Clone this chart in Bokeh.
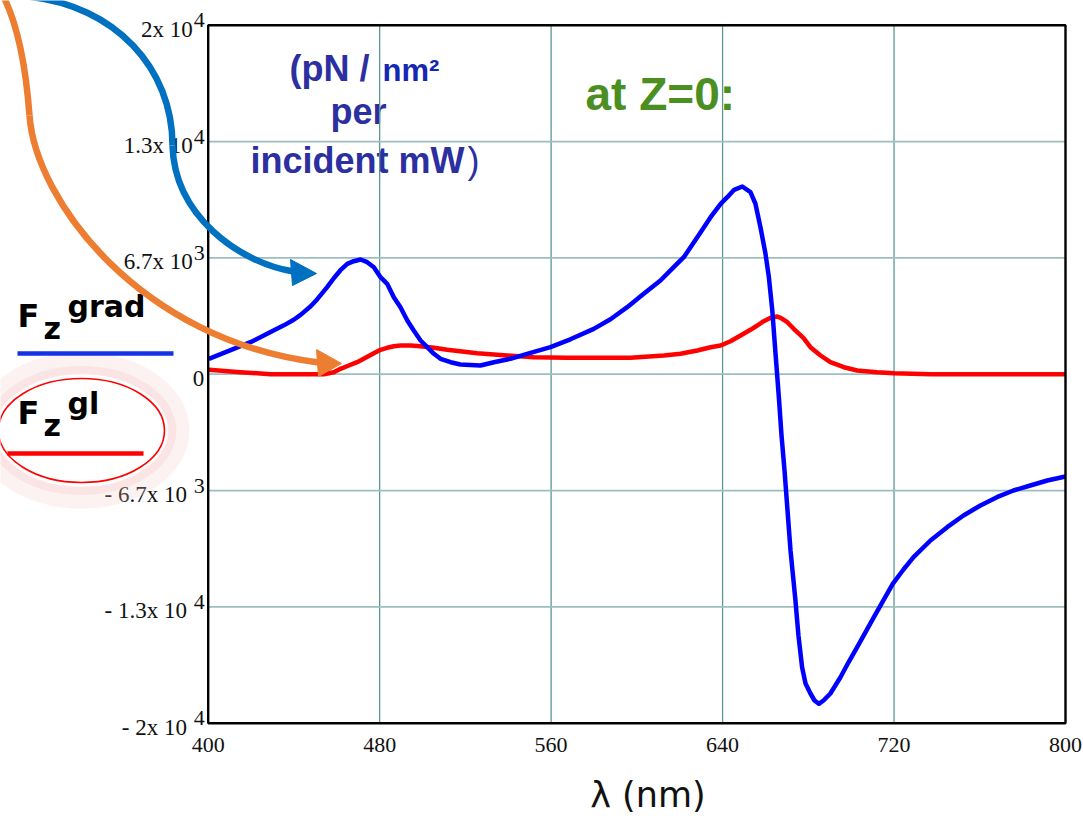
from bokeh.plotting import figure
from bokeh.models import Range1d, LinearAxis, FixedTicker
from bokeh.core.properties import value
from bokeh.embed import file_html
from bokeh.resources import INLINE

# ---- data: axial force at Z=0 versus wavelength ----
wavelength_grad = [400.3, 411.9, 419.7, 427.5, 435.3, 439.9, 443.1, 447.7, 450.9, 455.5,
                   458.6, 461.7, 464.9, 467.9, 471.1, 474.2, 477.3, 480.4, 483.5, 486.6,
                   489.7, 492.9, 495.9, 499.1, 502.2, 505.3, 508.4, 513.1, 517.7, 527.0,
                   533.3, 541.0, 548.8, 559.7, 569.0, 579.9, 587.7, 595.5, 603.2, 611.0,
                   617.2, 621.9, 628.2, 634.4, 639.1, 642.2, 645.4, 649.2, 653.0, 655.3,
                   657.7, 660.0, 661.6, 663.2, 664.7, 666.3, 667.5, 668.9, 670.3, 671.7,
                   674.0, 675.4, 677.1, 678.7, 681.0, 682.9, 684.9, 687.1, 690.3, 695.0,
                   698.7, 702.8, 710.6, 719.4, 724.4, 729.1, 737.0, 744.8, 752.4, 760.3,
                   768.0, 775.7, 783.6, 791.5, 800.0]
force_grad = [883, 1456, 1834, 2315, 2800, 3120, 3400, 3880, 4300, 4986,
              5500, 5960, 6327, 6476, 6573, 6418, 6132, 5559, 5181, 4413,
              3840, 3077, 2504, 1931, 1547, 1169, 883, 688, 556, 499,
              688, 883, 1169, 1547, 2000, 2600, 3150, 3840, 4607, 5370,
              6132, 6705, 7851, 8997, 9765, 10143, 10567, 10757, 10430, 9783,
              8407, 6917, 5559, 3651, 1187, -1393, -3513, -5519, -7811, -10103,
              -12968, -14974, -16790, -17724, -18298, -18699, -18888, -18699, -18298, -17364,
              -16522, -15645, -13925, -12012, -11192, -10487, -9530, -8768, -8097, -7524,
              -7049, -6665, -6378, -6092, -5862]

wavelength_gl = [400.3, 415.1, 429.1, 443.1, 453.9, 458.6, 461.7, 465.6, 469.5, 473.4,
                 477.3, 480.4, 483.5, 486.6, 489.7, 494.4, 499.0, 505.3, 511.5, 525.5,
                 539.5, 551.9, 567.5, 583.0, 597.0, 612.6, 620.4, 628.2, 634.4, 639.1,
                 643.7, 648.4, 653.0, 656.2, 659.2, 662.4, 665.5, 667.1, 670.2, 673.2,
                 677.7, 681.0, 685.7, 690.3, 696.6, 702.8, 712.1, 719.9, 737.0, 800.0]
force_gl = [252, 115, 0, 0, 0, 115, 309, 499, 688, 940,
            1203, 1398, 1513, 1604, 1645, 1645, 1605, 1513, 1398, 1203,
            1072, 974, 940, 940, 940, 1072, 1169, 1358, 1547, 1645,
            1891, 2218, 2544, 2791, 3037, 3232, 3306, 3232, 2980, 2602,
            2086, 1547, 1072, 688, 401, 212, 115, 57, 0, 0]

x_ticks = [400, 480, 560, 640, 720, 800]
x_limits = [400, 800]
y_ticks = [20000, 40000 / 3, 20000 / 3, 0, -20000 / 3, -40000 / 3, -20000]
y_limits = [-20000, 20000]
y_tick_mantissa = ["2x 10", "1.3x 10", "6.7x 10", "0", "-  6.7x 10", "-  1.3x 10", "-  2x 10"]
y_tick_exponent = ["4", "4", "3", "", "3", "4", "4"]

# ---- page geometry: the plotting box inside a full-page frame ----
W, H = 1083, 816
BOX_L, BOX_R, BOX_T, BOX_B = 207.7, 1065.0, 24.7, 722.7
KX = (x_limits[1] - x_limits[0]) / (BOX_R - BOX_L)
KY = (y_limits[1] - y_limits[0]) / (BOX_B - BOX_T)


def cx(px):
    """page pixel column -> wavelength coordinate"""
    return x_limits[0] + (px - BOX_L) * KX


def cy(py):
    """page pixel row -> force coordinate"""
    return y_limits[1] - (py - BOX_T) * KY


p = figure(width=W, height=H,
           x_range=Range1d(cx(0), cx(W)), y_range=Range1d(cy(H), cy(0)),
           output_backend="svg", toolbar_location=None,
           x_axis_location=None, y_axis_location=None, min_border=0)
p.outline_line_color = None
p.background_fill_color = "white"
p.border_fill_color = "white"
for g in p.grid:
    g.visible = False

SANS = "Liberation Sans"
SERIF = "Liberation Serif"
BASE_SHIFT = 0.38  # rendered baseline sits this many font sizes below the anchor


def put(txt, px, py, size, color, font=SANS, style="bold", align="left"):
    """place a text whose baseline lies on page row py"""
    p.text(x=[cx(px)], y=[cy(py - BASE_SHIFT * size)], text=[txt], text_font=value(font),
           text_font_style=style, text_font_size=f"{size}px", text_color=color,
           text_align=align, text_baseline="alphabetic")


# ---- texts inside the plot (under the grid lines) ----
put("(pN / ", 289, 82, 36, "#2b2fa0")
put("nm\u00b2", 382, 82, 31, "#1528b4")
put("per", 330, 125, 36, "#2b2fa0")
put("incident mW", 250, 174, 36, "#2b2fa0")
put(")", 467, 174, 36, "#2b2fa0", style="normal")
put("at Z=0:", 585, 111, 46, "#4b8e22")

# ---- grid ----
x_grid = x_ticks[1:-1]
y_grid = y_ticks[1:-1]
p.segment(x0=x_grid, y0=[y_limits[0]] * len(x_grid), x1=x_grid, y1=[y_limits[1]] * len(x_grid),
          line_color="#5b9797", line_width=1.3)
p.segment(x0=[x_limits[0]] * len(y_grid), y0=y_grid, x1=[x_limits[1]] * len(y_grid), y1=y_grid,
          line_color="#9dbebe", line_width=1.8)

# ---- curves ----
p.line(wavelength_gl, force_gl, line_color="#ff0000", line_width=4.5, line_join="round")
p.line(wavelength_grad, force_grad, line_color="#0000ff", line_width=4.5, line_join="round")

# ---- plot box ----
p.quad(left=[x_limits[0]], right=[x_limits[1]], bottom=[y_limits[0]], top=[y_limits[1]],
       fill_color=None, line_color="black", line_width=2.4)

# ---- axes: x tick labels ----
xaxis = LinearAxis(fixed_location=y_limits[0], bounds=(x_limits[0], x_limits[1]),
                   ticker=FixedTicker(ticks=x_ticks))
xaxis.axis_line_color = None
xaxis.major_tick_line_color = None
xaxis.minor_tick_line_color = None
xaxis.major_tick_in = 0
xaxis.major_tick_out = 0
xaxis.major_label_standoff = 15
xaxis.major_label_text_font = SERIF
xaxis.major_label_text_font_size = "22px"
xaxis.major_label_text_color = "#111111"
p.add_layout(xaxis, "below")

# y tick labels written as mantissa x 10 with a raised exponent
p.text(x=[x_limits[0]] * len(y_ticks), y=y_ticks, text=y_tick_mantissa,
       x_offset=[-15.5 if e else -4 for e in y_tick_exponent], y_offset=4,
       text_font=value(SERIF), text_font_size="23px", text_color="#111111",
       text_align="right", text_baseline="middle")
p.text(x=[x_limits[0]] * len(y_ticks), y=y_ticks, text=y_tick_exponent,
       x_offset=-14.5, y_offset=-5,
       text_font=value(SERIF), text_font_size="22px", text_color="#111111",
       text_align="left", text_baseline="middle")

put("\u03bb  (nm)", 653, 808, 35, "#111111", font="DejaVu Sans", style="normal", align="center")

# ---- legend at the left ----
# soft pink halo and red ring around the second entry
p.ellipse(x=[cx(81)], y=[cy(430)], width=[194], height=[134], width_units="screen",
          height_units="screen", fill_color=None, line_color="#f7cccc", line_width=22, line_alpha=0.25)
p.ellipse(x=[cx(81)], y=[cy(430)], width=[182], height=[121], width_units="screen",
          height_units="screen", fill_color=None, line_color="#f3b0b0", line_width=8, line_alpha=0.2)
p.ellipse(x=[cx(81)], y=[cy(430)], width=[166], height=[104], width_units="screen",
          height_units="screen", fill_color=None, line_color="#ff0000", line_width=1.6)

LEG = "DejaVu Sans"
put("F", 17, 328, 32, "black", font=LEG)
put("z", 43, 339, 30, "black", font=LEG)
put("grad", 67, 317, 30, "black", font=LEG)
p.segment(x0=[cx(17)], y0=[cy(353)], x1=[cx(173)], y1=[cy(353)], line_color="#1432e6", line_width=4.5)

put("F", 17, 425, 32, "black", font=LEG)
put("z", 43, 436, 30, "black", font=LEG)
put("gl", 67, 414, 30, "black", font=LEG)
p.segment(x0=[cx(7)], y0=[cy(453)], x1=[cx(143)], y1=[cy(453)], line_color="#ff0000", line_width=4.5)


# ---- curved pointer arrows ----
def bez(points, color, width):
    (x0, y0), (a0, b0), (a1, b1), (x1, y1) = points
    p.bezier(x0=[cx(x0)], y0=[cy(y0)], cx0=[cx(a0)], cy0=[cy(b0)], cx1=[cx(a1)], cy1=[cy(b1)],
             x1=[cx(x1)], y1=[cy(y1)], line_color=color, line_width=width)


def head(tip, b1, b2, color):
    p.patch(x=[cx(tip[0]), cx(b1[0]), cx(b2[0])], y=[cy(tip[1]), cy(b1[1]), cy(b2[1])],
            fill_color=color, line_color=color, line_width=1)


ORANGE = "#ed7d31"
bez([(3, -4), (20, 30), (26, 75), (29, 115)], ORANGE, 6.5)
bez([(29, 115), (35, 200), (140, 340), (318, 362)], ORANGE, 6.5)
head((341, 363), (316, 349), (318, 376), ORANGE)

BLUE = "#0070c0"
bez([(27, -4), (115, 5), (172, 68), (172, 145)], BLUE, 6.5)
bez([(172, 145), (174, 215), (238, 262), (293, 271)], BLUE, 6.5)
head((316, 273), (290, 259), (292, 285), BLUE)

open("out.html", "w").write(file_html(p, INLINE))
